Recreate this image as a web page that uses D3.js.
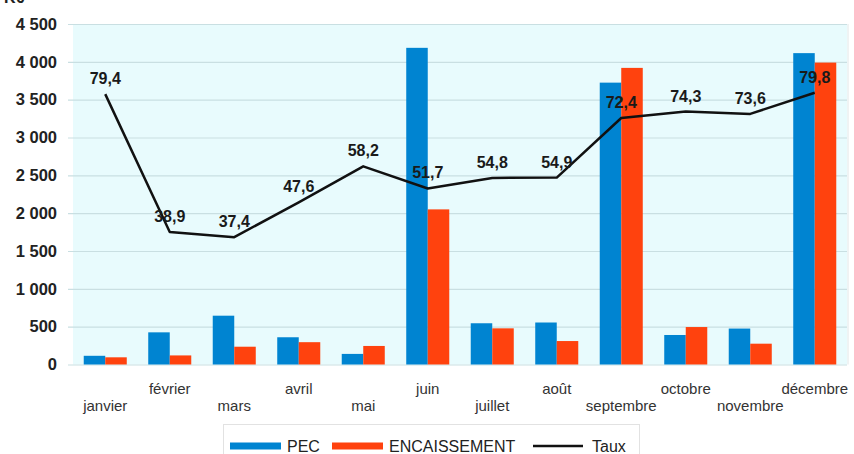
<!DOCTYPE html>
<html lang="fr">
<head>
<meta charset="utf-8">
<script src="https://cdn.jsdelivr.net/npm/d3@7"></script>
<style>
  html, body { margin: 0; padding: 0; background: #ffffff; }
  svg { display: block; font-family: "Liberation Sans", Arial, sans-serif; }
</style>
</head>
<body>
<svg id="chart" width="854" height="454"></svg>
<script>
// Monthly figures (K€) and collection rate (%)
const months = ["janvier", "février", "mars", "avril", "mai", "juin",
                "juillet", "août", "septembre", "octobre", "novembre", "décembre"];
const pec = [115, 425, 645, 360, 140, 4185, 545, 555, 3725, 390, 475, 4115];
const encaissement = [95, 120, 235, 295, 245, 2050, 478, 310, 3920, 495, 275, 3990];
const taux = [79.4, 38.9, 37.4, 47.6, 58.2, 51.7, 54.8, 54.9, 72.4, 74.3, 73.6, 79.8];
const yTicks = [0, 500, 1000, 1500, 2000, 2500, 3000, 3500, 4000, 4500];
const seriesNames = ["PEC", "ENCAISSEMENT", "Taux"];

const colors = { PEC: "#0084d1", ENCAISSEMENT: "#ff420e", Taux: "#111111" };

const svg = d3.select("#chart");
const plot = { left: 73, right: 847, top: 24, bottom: 364.5 };

const x = d3.scaleBand()
  .domain(months)
  .range([plot.left, plot.right])
  .paddingInner(0.333)
  .paddingOuter(0.1665);

const xs = d3.scaleBand()
  .domain(["PEC", "ENCAISSEMENT"])
  .range([0, x.bandwidth()]);

const y = d3.scaleLinear().domain([0, 4500]).range([plot.bottom, plot.top]);
// Rate axis (hidden), 0–100 % over the same height
const y2 = d3.scaleLinear().domain([0, 100]).range([plot.bottom, plot.top]);

// Unit label
svg.append("text")
  .attr("x", 4).attr("y", 3)
  .attr("font-size", 16).attr("font-weight", "bold").attr("fill", "#222")
  .text("K€");

// Plot background
svg.append("rect")
  .attr("x", plot.left).attr("y", plot.top)
  .attr("width", plot.right - plot.left).attr("height", plot.bottom - plot.top)
  .attr("fill", "#e8fbfd");

// Right border of the plot area
svg.append("line")
  .attr("x1", plot.right + 1).attr("x2", plot.right + 1)
  .attr("y1", plot.top).attr("y2", plot.bottom)
  .attr("stroke", "#dfe7e8").attr("stroke-width", 1);

// Y axis with gridlines
const fmt = d => d3.format(",")(d).replace(/,/g, "\u00a0");
const yAxis = svg.append("g")
  .attr("transform", `translate(68,0)`)
  .call(d3.axisLeft(y)
    .tickValues(yTicks)
    .tickFormat(fmt)
    .tickSize(-(plot.right - 68))
    .tickPadding(11));
yAxis.select(".domain").remove();
yAxis.selectAll(".tick line").attr("stroke", "#c9dfe2").attr("stroke-width", 1.2);
yAxis.selectAll(".tick text")
  .attr("font-size", 16.5).attr("font-weight", "bold")
  .attr("fill", "#222").attr("font-family", "Liberation Sans, Arial, sans-serif");

// Bars
const groups = svg.append("g").selectAll("g")
  .data(months)
  .join("g")
  .attr("transform", m => `translate(${x(m)},0)`);

groups.append("rect")
  .attr("x", xs("PEC"))
  .attr("width", xs.bandwidth())
  .attr("y", (m, i) => y(pec[i]))
  .attr("height", (m, i) => y(0) - y(pec[i]))
  .attr("fill", colors.PEC);

groups.append("rect")
  .attr("x", xs("ENCAISSEMENT"))
  .attr("width", xs.bandwidth())
  .attr("y", (m, i) => y(encaissement[i]))
  .attr("height", (m, i) => y(0) - y(encaissement[i]))
  .attr("fill", colors.ENCAISSEMENT);

// Rate line
const cx = m => x(m) + x.bandwidth() / 2;
const line = d3.line()
  .x((d, i) => cx(months[i]))
  .y(d => y2(d));

svg.append("path")
  .datum(taux)
  .attr("d", line)
  .attr("fill", "none")
  .attr("stroke", colors.Taux)
  .attr("stroke-width", 2.5)
  .attr("stroke-linejoin", "round");

// Rate labels
svg.append("g").selectAll("text")
  .data(taux)
  .join("text")
  .attr("x", (d, i) => cx(months[i]))
  .attr("y", d => y2(d) - 10)
  .attr("text-anchor", "middle")
  .attr("font-size", 16).attr("font-weight", "bold")
  .attr("fill", "#1a1a1a")
  .text(d => d3.format(".1f")(d).replace(".", ","));

// Category labels, staggered on two rows
svg.append("g").selectAll("text")
  .data(months)
  .join("text")
  .attr("x", m => cx(m))
  .attr("y", (m, i) => i % 2 === 0 ? 411 : 394)
  .attr("text-anchor", "middle")
  .attr("font-size", 15)
  .attr("fill", "#333")
  .text(m => m);

// Legend
const legend = svg.append("g");
legend.append("rect")
  .attr("x", 223.5).attr("y", 424.5)
  .attr("width", 416).attr("height", 40)
  .attr("fill", "#fff").attr("stroke", "#e2e2e2");

const legendItems = [
  { name: seriesNames[0], sx: 230, tx: 287, type: "rect" },
  { name: seriesNames[1], sx: 332, tx: 389, type: "rect" },
  { name: seriesNames[2], sx: 533, tx: 592, type: "line" }
];
legendItems.forEach(it => {
  if (it.type === "rect") {
    legend.append("rect")
      .attr("x", it.sx).attr("y", 442.5)
      .attr("width", 51).attr("height", 7)
      .attr("fill", colors[it.name]);
  } else {
    legend.append("line")
      .attr("x1", it.sx).attr("x2", it.sx + 50)
      .attr("y1", 446).attr("y2", 446)
      .attr("stroke", colors.Taux).attr("stroke-width", 2.5);
  }
  legend.append("text")
    .attr("x", it.tx).attr("y", 451.5)
    .attr("font-size", 16).attr("fill", "#222")
    .text(it.name);
});
</script>
</body>
</html>
